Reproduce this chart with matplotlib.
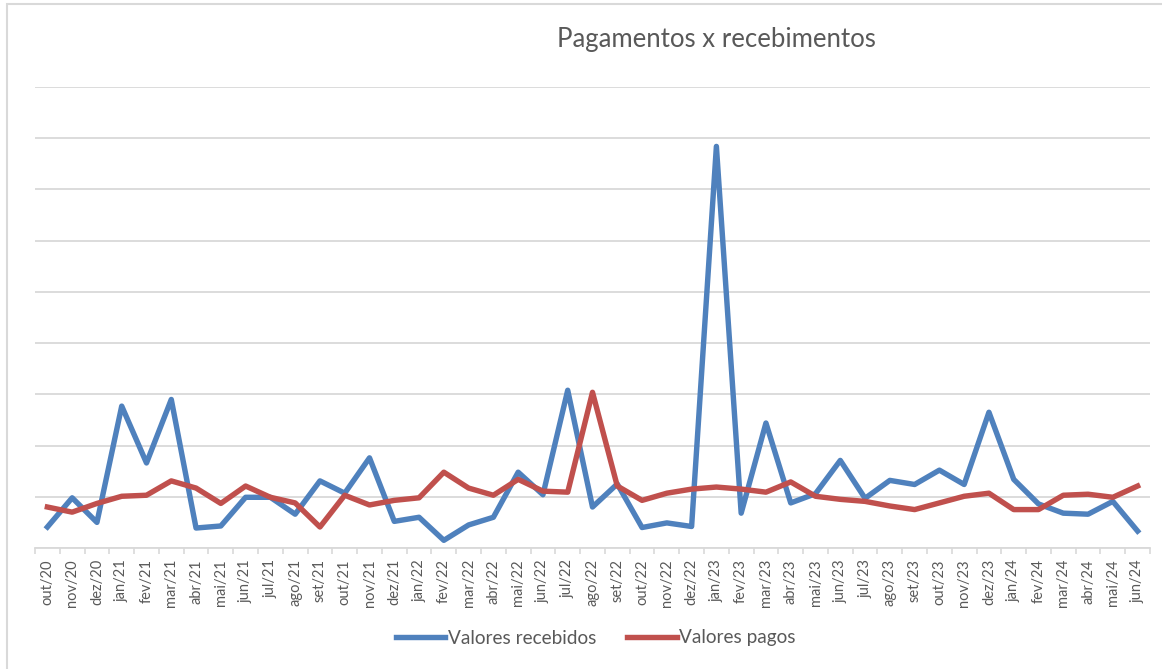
import matplotlib.pyplot as plt
import matplotlib.patches as mpatches
import numpy as np

meses = ['out/20', 'nov/20', 'dez/20', 'jan/21', 'fev/21', 'mar/21', 'abr/21', 'mai/21',
         'jun/21', 'jul/21', 'ago/21', 'set/21', 'out/21', 'nov/21', 'dez/21', 'jan/22',
         'fev/22', 'mar/22', 'abr/22', 'mai/22', 'jun/22', 'jul/22', 'ago/22', 'set/22',
         'out/22', 'nov/22', 'dez/22', 'jan/23', 'fev/23', 'mar/23', 'abr/23', 'mai/23',
         'jun/23', 'jul/23', 'ago/23', 'set/23', 'out/23', 'nov/23', 'dez/23', 'jan/24',
         'fev/24', 'mar/24', 'abr/24', 'mai/24', 'jun/24']

# valores (unidade = 1 linha de grade, sem escala no original)
recebidos = [0.41, 0.98, 0.50, 2.77, 1.66, 2.90, 0.39, 0.43,
             0.99, 0.99, 0.66, 1.31, 1.07, 1.76, 0.52, 0.60,
             0.15, 0.45, 0.60, 1.48, 1.04, 3.08, 0.80, 1.25,
             0.40, 0.49, 0.42, 7.84, 0.68, 2.44, 0.88, 1.06,
             1.71, 0.97, 1.32, 1.24, 1.52, 1.24, 2.65, 1.34,
             0.86, 0.68, 0.66, 0.91, 0.33]

pagos = [0.80, 0.70, 0.87, 1.01, 1.03, 1.31, 1.17, 0.87,
         1.21, 0.99, 0.88, 0.41, 1.03, 0.84, 0.93, 0.98,
         1.48, 1.17, 1.03, 1.34, 1.11, 1.09, 3.04, 1.21,
         0.93, 1.07, 1.15, 1.19, 1.15, 1.09, 1.29, 1.01,
         0.95, 0.91, 0.82, 0.75, 0.88, 1.01, 1.07, 0.75,
         0.75, 1.03, 1.05, 0.99, 1.21]

W, H = 1162, 669
fig = plt.figure(figsize=(W / 100, H / 100), dpi=100)
plt.rcParams['font.family'] = ['Lato', 'DejaVu Sans']

# moldura do grafico (so aparece a esquerda e em cima)
fig.patches.append(mpatches.Rectangle((7 / W, -0.1), 1.2, 1.1 - 4 / H, transform=fig.transFigure,
                                      fill=False, edgecolor='#D9D9D9', linewidth=1.5))

ax = fig.add_axes([35 / W, 1 - 548 / H, (1150 - 35) / W, (548 - 87) / H])

x = np.arange(len(meses))
ax.plot(x, recebidos, color='#4F81BD', linewidth=3.9, label='Valores recebidos', solid_joinstyle='round')
ax.plot(x, pagos, color='#C0504D', linewidth=3.9, label='Valores pagos', solid_joinstyle='round')

ax.set_xlim(-0.5, len(meses) - 0.5)
ax.set_ylim(0, 9)
ax.set_yticks(np.arange(0, 10))
ax.yaxis.grid(True, color='#D9D9D9', linewidth=1.3)
ax.set_axisbelow(True)
ax.tick_params(axis='y', left=False, labelleft=False)

ax.set_xticks(x)
ax.set_xticklabels(meses, rotation=90, fontsize=10.5, color='#595959')
ax.set_xticks(np.arange(-0.5, len(meses)), minor=True)
ax.tick_params(axis='x', which='major', length=0, pad=8)
ax.tick_params(axis='x', which='minor', length=4, color='#D9D9D9', width=1.2)

for s in ['top', 'right', 'left']:
    ax.spines[s].set_visible(False)
ax.spines['bottom'].set_color('#D9D9D9')
ax.spines['bottom'].set_linewidth(1.3)

fig.text(716 / W, 1 - 40 / H, 'Pagamentos x recebimentos', ha='center', va='center',
         fontsize=18.5, color='#595959')

fig.legend(loc='center', bbox_to_anchor=(596 / W, 1 - 638 / H), ncol=2, frameon=False,
           fontsize=13.7, labelcolor='#595959', handlelength=2.6, columnspacing=1.6,
           handletextpad=0.15)

fig.savefig('out.png', dpi=100)
